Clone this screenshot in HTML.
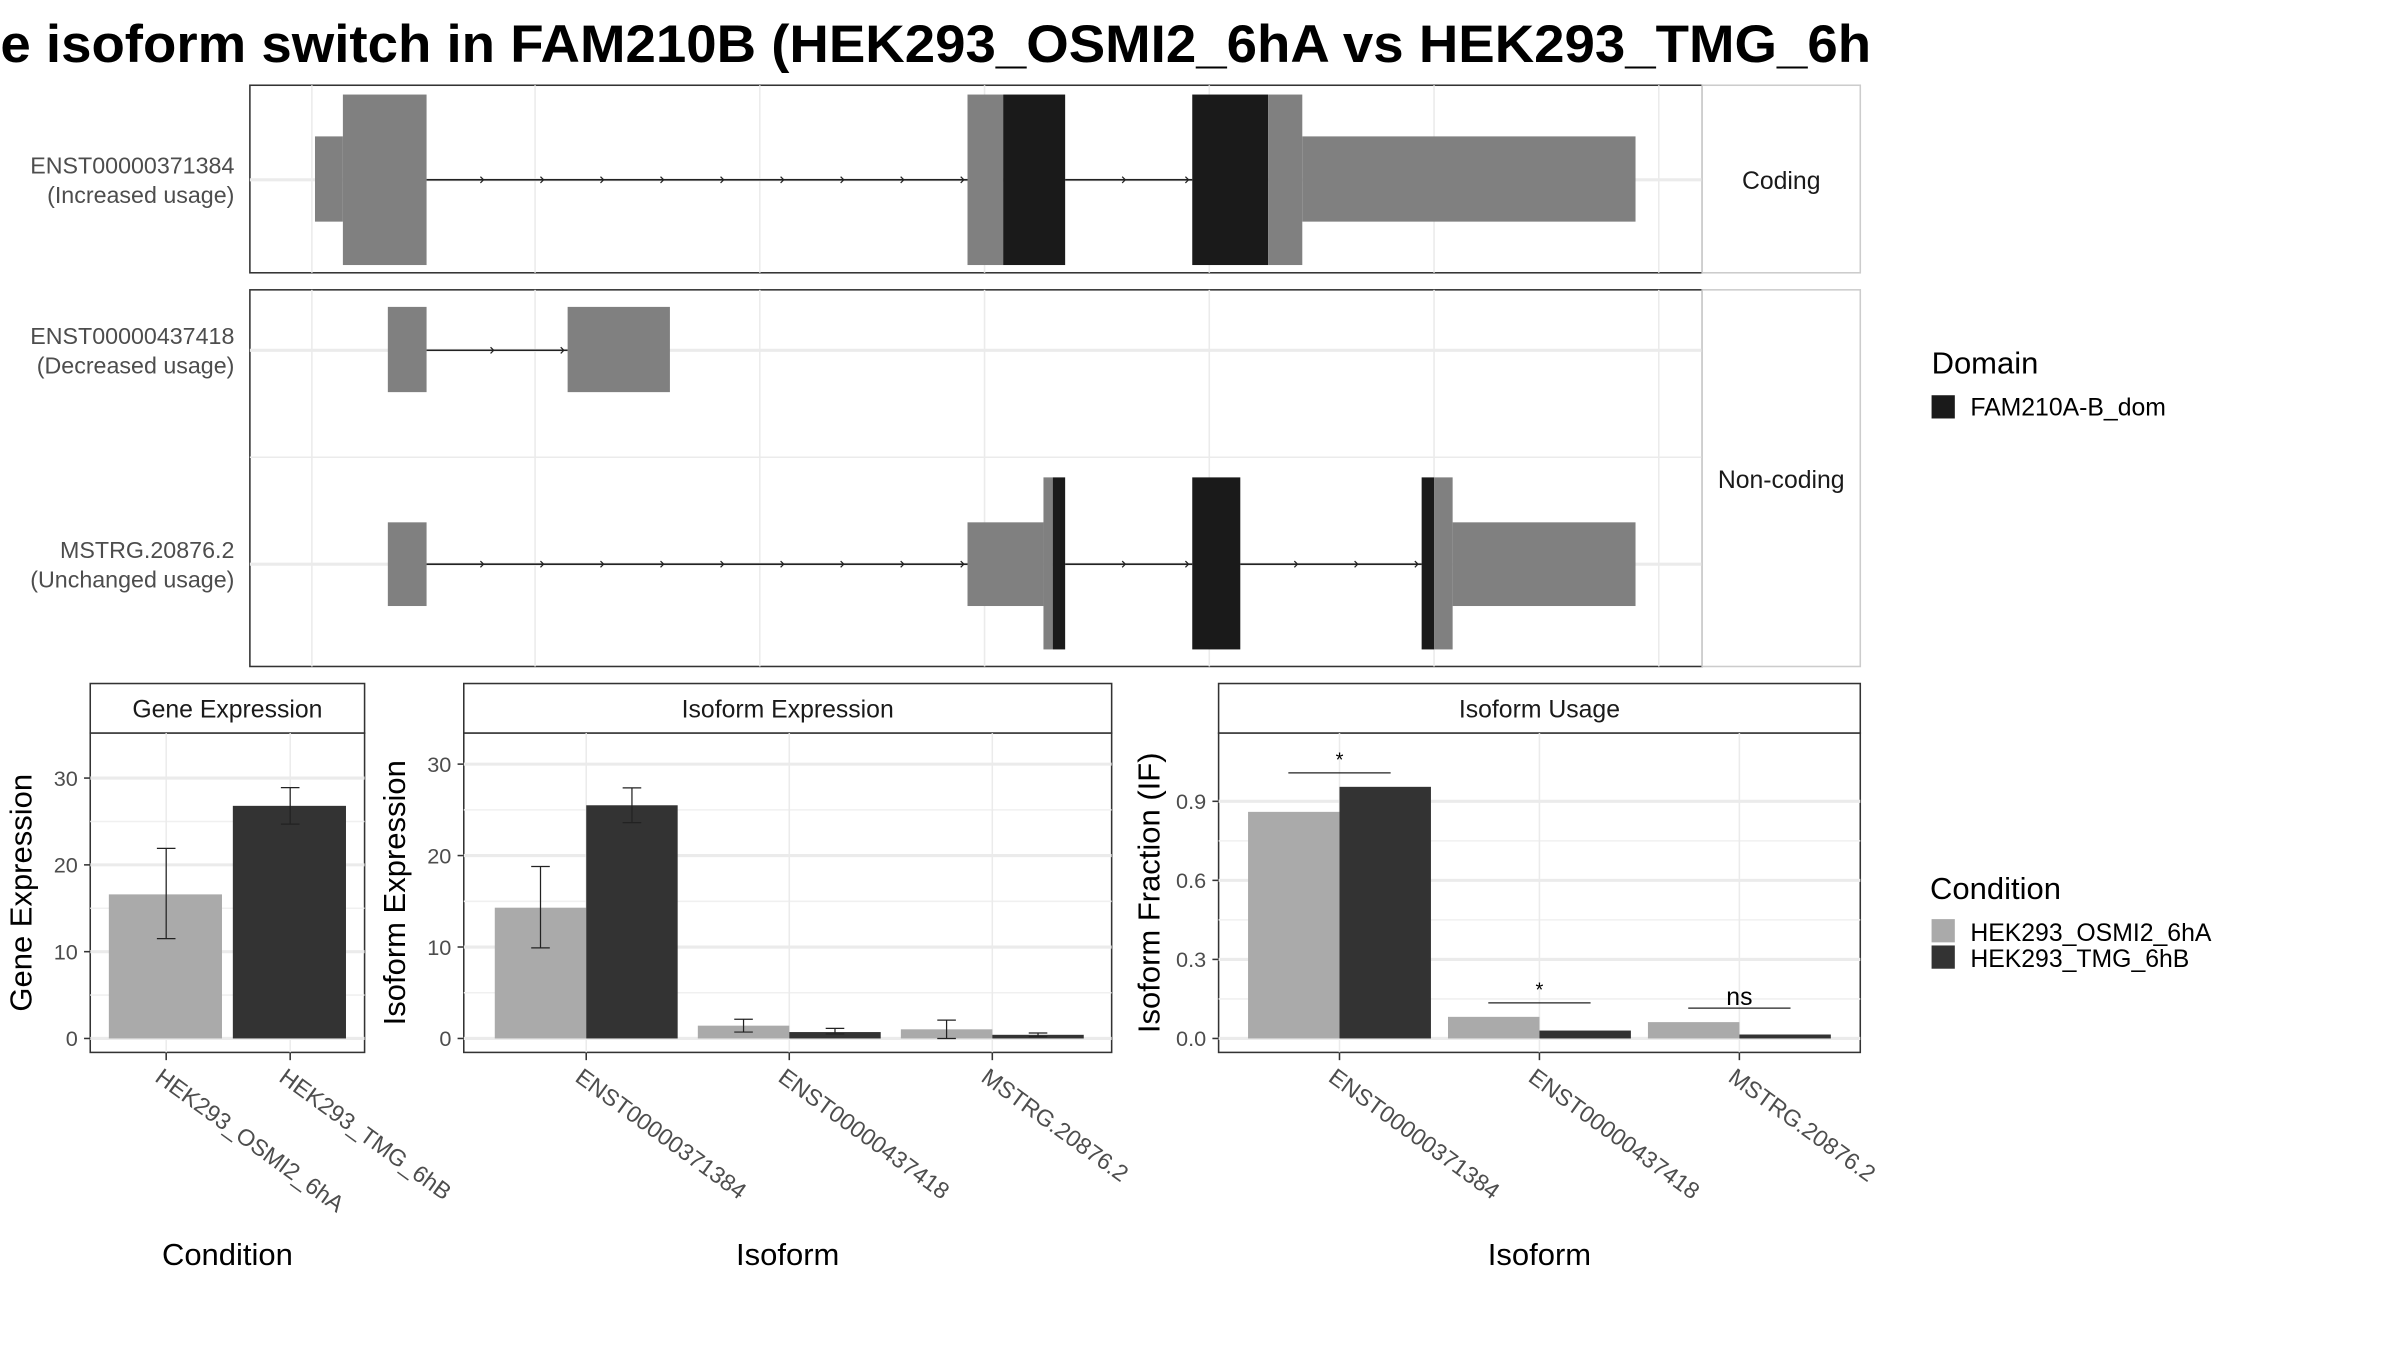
<!DOCTYPE html>
<html><head><meta charset="utf-8"><style>
html,body{margin:0;padding:0;background:#fff}
svg{display:block}
text{font-family:"Liberation Sans",sans-serif}
</style></head><body>
<svg id="chart" width="2400" height="1350" viewBox="0 0 1548 871" xmlns="http://www.w3.org/2000/svg">
<rect width="1548" height="871" fill="#fff"/>
<text x="0" y="40" font-size="34" font-weight="bold" textLength="1207" lengthAdjust="spacingAndGlyphs">e isoform switch in FAM210B (HEK293_OSMI2_6hA vs HEK293_TMG_6h</text>

<g>
  <rect x="161" y="55" width="937" height="121" fill="#fff" stroke="#333" stroke-width="1"/>
  <rect x="161" y="187" width="937" height="243" fill="#fff" stroke="#333" stroke-width="1"/>
  <g id="tgrid" stroke="#ebebeb" stroke-width="1"></g>
  <g id="tracks"></g>
  <rect x="1098" y="55" width="102" height="121" fill="#fff" stroke="#ccc"/>
  <text x="1149" y="122" font-size="16" text-anchor="middle" fill="#1a1a1a">Coding</text>
  <rect x="1098" y="187" width="102" height="243" fill="#fff" stroke="#ccc"/>
  <text x="1149" y="315" font-size="16" text-anchor="middle" fill="#1a1a1a">Non-coding</text>
  <g font-size="15" fill="#4d4d4d" text-anchor="end">
    <text x="151" y="112">ENST00000371384</text>
    <text x="151" y="131">(Increased usage)</text>
    <text x="151" y="222">ENST00000437418</text>
    <text x="151" y="241">(Decreased usage)</text>
    <text x="151" y="360">MSTRG.20876.2</text>
    <text x="151" y="379">(Unchanged usage)</text>
  </g>
</g>

<g>
  <text x="1246" y="241" font-size="20" fill="#000">Domain</text>
  <rect x="1246" y="255" width="15" height="15" fill="#1a1a1a"/>
  <text x="1271" y="268" font-size="16" fill="#000">FAM210A-B_dom</text>
</g>
<g>
  <text x="1245" y="580" font-size="20" fill="#000">Condition</text>
  <rect x="1246" y="593" width="15" height="15" fill="#aaaaaa"/>
  <text x="1271" y="607" font-size="16" fill="#000">HEK293_OSMI2_6hA</text>
  <rect x="1246" y="610" width="15" height="15" fill="#333333"/>
  <text x="1271" y="624" font-size="16" fill="#000">HEK293_TMG_6hB</text>
</g>

<g id="bottom"></g>
</svg>
<script>
// ---- data ----
const conditions = ["HEK293_OSMI2_6hA", "HEK293_TMG_6hB"];
const isoforms = ["ENST00000371384", "ENST00000437418", "MSTRG.20876.2"];
const geneExpr = [16.6, 26.8];
const geneErrLo = [11.5, 24.7];
const geneErrHi = [21.9, 28.9];
const isoExprA = [14.3, 1.4, 1.0];
const isoExprB = [25.5, 0.7, 0.4];
const isoErrLoA = [9.9, 0.7, 0.0];
const isoErrHiA = [18.8, 2.1, 2.0];
const isoErrLoB = [23.6, 0.5, 0.2];
const isoErrHiB = [27.4, 1.1, 0.6];
const usageA = [0.86, 0.082, 0.062];
const usageB = [0.955, 0.03, 0.015];
const sigLabels = ["*", "*", "ns"];
const geneTicks = [0, 10, 20, 30];
const isoTicks = [0, 10, 20, 30];
const usageTicks = [0, 0.3, 0.6, 0.9];
const usageTickLabels = ["0.0", "0.3", "0.6", "0.9"];

const NS = "http://www.w3.org/2000/svg";
function mk(tag, attrs, parent, txt) {
  const e = document.createElementNS(NS, tag);
  for (const k in attrs) e.setAttribute(k, attrs[k]);
  if (txt !== undefined) e.textContent = txt;
  parent.appendChild(e);
  return e;
}

// ---- transcript tracks ----
const tg = document.getElementById("tgrid");
[201,345,490,635,780,925,1070].forEach(x => { mk("line",{x1:x,x2:x,y1:55,y2:176},tg); mk("line",{x1:x,x2:x,y1:187,y2:430},tg); });
[116,226,364].forEach(y => mk("line",{x1:161,x2:1098,y1:y,y2:y,"stroke-width":2},tg));
mk("line",{x1:161,x2:1098,y1:295,y2:295},tg);
const tr = document.getElementById("tracks");
function intron(x1,x2,y){
  mk("line",{x1:x1,x2:x2,y1:y,y2:y,stroke:"#222","stroke-width":1},tr);
  const n = Math.floor((x2-x1)/38);
  for (let i=1;i<=n;i++){ const x=x1+i*(x2-x1)/(n+0.01)-2; mk("path",{d:`M${x-2},${y-2} L${x},${y} L${x-2},${y+2}`,stroke:"#222",fill:"none","stroke-width":0.8},tr); }
}
function ex(x1,x2,y1,y2,c){ mk("rect",{x:x1,y:y1,width:x2-x1,height:y2-y1,fill:c},tr); }
const G="#808080", K="#1a1a1a";
intron(275,624,116); intron(687,769,116);
ex(203,221,88,143,G); ex(221,275,61,171,G); ex(624,647,61,171,G); ex(647,687,61,171,K);
ex(769,818,61,171,K); ex(818,840,61,171,G); ex(840,1055,88,143,G);
intron(275,366,226);
ex(250,275,198,253,G); ex(366,432,198,253,G);
intron(275,624,364); intron(687,769,364); intron(800,917,364);
ex(250,275,337,391,G); ex(624,673,337,391,G); ex(673,679,308,419,G); ex(679,687,308,419,K);
ex(769,800,308,419,K); ex(917,925,308,419,K); ex(925,937,308,419,G); ex(937,1055,337,391,G);

// ---- bottom panels ----
const B = document.getElementById("bottom");
function panel(name, x0, x1, title, ticks, tickLabels, yScale, yTitle, cats, catX, xTitle) {
  const g = mk("g", {}, B);
  
  
  mk("rect",{x:x0,y:441,width:x1-x0,height:32,fill:"#fff",stroke:"#333","stroke-width":1},g);
  mk("text",{x:(x0+x1)/2,y:463,"font-size":16,"text-anchor":"middle",fill:"#1a1a1a"},g,title);
  mk("rect",{x:x0,y:473,width:x1-x0,height:206,fill:"#fff",stroke:"#333","stroke-width":1},g);
  // minor grid
  for (let i=0;i<ticks.length-1;i++){ const y=yScale((ticks[i]+ticks[i+1])/2); mk("line",{x1:x0,x2:x1,y1:y,y2:y,stroke:"#f0f0f0"},g); }
  ticks.forEach((t,i)=>{ const y=yScale(t);
    mk("line",{x1:x0,x2:x1,y1:y,y2:y,stroke:"#ebebeb","stroke-width":2},g);
    mk("line",{x1:x0-4,x2:x0,y1:y,y2:y,stroke:"#333"},g);
    mk("text",{x:x0-8,y:y+5,"font-size":14,"text-anchor":"end",fill:"#4d4d4d"},g,tickLabels[i]); });
  catX.forEach((cx,i)=>{
    mk("line",{x1:cx,x2:cx,y1:473,y2:679,stroke:"#ebebeb"},g);
    mk("line",{x1:cx,x2:cx,y1:679,y2:684,stroke:"#333"},g);
    const t = mk("text",{x:cx-8,y:697,"font-size":15,fill:"#4d4d4d",transform:`rotate(36 ${cx-8} 697)`},g,cats[i]);
    
    
  });
  const yt = mk("text",{x:0,y:0,"font-size":20,"text-anchor":"middle",fill:"#000",transform:`translate(${x0-38},576) rotate(-90)`},g,yTitle);
  
  
  const xt = mk("text",{x:(x0+x1)/2,y:816,"font-size":20,"text-anchor":"middle",fill:"#000"},g,xTitle);
  
  
  return g;
}
function bar(g,x,w,v,ys,c,name){ const y=ys(v),y0=ys(0); const r=mk("rect",{x:x,y:Math.min(y,y0),width:w,height:Math.abs(y0-y),fill:c},g);
    }
function err(g,cx,lo,hi,ys){ mk("path",{d:`M${cx-6},${ys(hi)} H${cx+6} M${cx},${ys(hi)} V${ys(lo)} M${cx-6},${ys(lo)} H${cx+6}`,stroke:"#222",fill:"none","stroke-width":0.8},g); }

// Gene expression
const ysG = v => 670 - v*5.6;
const gx = [107,187];
const g1 = panel("gene-expression-panel",58,235,"Gene Expression",geneTicks,geneTicks.map(String),ysG,"Gene Expression",conditions,gx,"Condition");
conditions.forEach((c,i)=>{ bar(g1,gx[i]-37,73,geneExpr[i],ysG,i?"#333333":"#aaaaaa","bar-gene-"+i); err(g1,gx[i],geneErrLo[i],geneErrHi[i],ysG); });

// Isoform expression
const ysI = v => 670 - v*5.9;
const ix = [378,509,640];
const g2 = panel("isoform-expression-panel",299,717,"Isoform Expression",isoTicks,isoTicks.map(String),ysI,"Isoform Expression",isoforms,ix,"Isoform");
isoforms.forEach((c,i)=>{
  bar(g2,ix[i]-59,59,isoExprA[i],ysI,"#aaaaaa","bar-isoexpr-a-"+i); err(g2,ix[i]-29.5,isoErrLoA[i],isoErrHiA[i],ysI);
  bar(g2,ix[i],59,isoExprB[i],ysI,"#333333","bar-isoexpr-b-"+i); err(g2,ix[i]+29.5,isoErrLoB[i],isoErrHiB[i],ysI);
});

// Isoform usage
const ysU = v => 670 - v*170;
const ux = [864,993,1122];
const g3 = panel("isoform-usage-panel",786,1200,"Isoform Usage",usageTicks,usageTickLabels,ysU,"Isoform Fraction (IF)",isoforms,ux,"Isoform");
isoforms.forEach((c,i)=>{
  bar(g3,ux[i]-59,59,usageA[i],ysU,"#aaaaaa","bar-usage-a-"+i);
  bar(g3,ux[i],59,usageB[i],ysU,"#333333","bar-usage-b-"+i);
  const ly = ysU(Math.max(usageA[i],usageB[i])) - 9;
  mk("line",{x1:ux[i]-33,x2:ux[i]+33,y1:ly,y2:ly,stroke:"#222","stroke-width":0.8},g3);
  const s = mk("text",{x:ux[i],y:ly-(sigLabels[i]==="ns"?2:4),"font-size":sigLabels[i]==="ns"?16:13,"text-anchor":"middle",fill:"#000"},g3,sigLabels[i]);
  
  
});
</script>
</body></html>
